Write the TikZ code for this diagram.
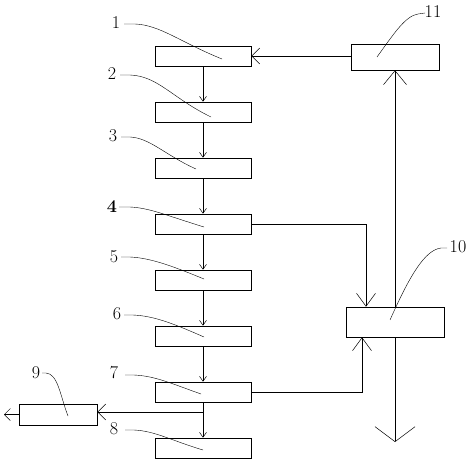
\documentclass[tikz,border=0pt]{standalone}
\usetikzlibrary{arrows.meta}
\begin{document}
\begin{tikzpicture}[x=1pt,y=-1pt,line width=0.6pt,
  box/.style={draw,rectangle,minimum width=96pt,minimum height=20pt,inner sep=0pt},
  lbl/.style={font=\fontsize{18}{18}\selectfont,inner sep=0pt},
  lead/.style={line width=0.4pt},
  sa/.style={-{Straight Barb[length=5pt,width=7pt,line width=0.5pt]}},
  ma/.style={-{Straight Barb[length=8pt,width=16pt,line width=0.5pt]}},
  la/.style={-{Straight Barb[length=13pt,width=19pt,line width=0.5pt]}},
  xa/.style={-{Straight Barb[length=14pt,width=23pt,line width=0.5pt]}},
  xl/.style={-{Straight Barb[length=15pt,width=40pt,line width=0.5pt]}}]
\useasboundingbox (0,0) rectangle (470,462);
% column boxes
\node[box] (b1) at (203,56) {};
\node[box] (b2) at (203,112) {};
\node[box] (b3) at (203,168) {};
\node[box] (b4) at (203,224) {};
\node[box] (b5) at (203,280) {};
\node[box] (b6) at (203,336) {};
\node[box] (b7) at (203,392) {};
\node[box] (b8) at (203,448) {};
\node[box,minimum width=78pt,minimum height=21pt] (b9) at (58,414.5) {};
\node[box,minimum width=98pt,minimum height=30pt] (b10) at (395,322) {};
\node[box,minimum width=88pt,minimum height=26pt] (b11) at (395,57) {};
% coordinates
\coordinate (c9) at (4,414.5);
\coordinate (branch) at (203,412);
\coordinate (c4) at (366,224);
\coordinate (c7) at (362,392);
\coordinate (cdown) at (395,442);
% connectors
\draw[ma] (b1.east -| b11.west) -- (b1.east);
\draw[sa] (b1.south) -- (b2.north);
\draw[sa] (b2.south) -- (b3.north);
\draw[sa] (b3.south) -- (b4.north);
\draw[sa] (b4.south) -- (b5.north);
\draw[sa] (b5.south) -- (b6.north);
\draw[sa] (b6.south) -- (b7.north);
\draw[sa] (b7.south) -- (b8.north);
\draw[ma] (branch) -- (branch -| b9.east);
\draw[-{Straight Barb[length=6pt,width=12pt,line width=0.5pt]}] (b9.west) -- (c9);
\draw[la] (b4.east) -- (c4) -- (c4 |- b10.north);
\draw[la] (b7.east) -- (c7) -- (c7 |- b10.south);
\draw[xa] (b10.north) -- (b11.south);
\draw[xl] (b10.south) -- (cdown);
% labels
\node[lbl] (l1) at (116,23) {1};
\node[lbl] (l2) at (112,74) {2};
\node[lbl] (l3) at (113,136) {3};
\node[lbl,font=\fontsize{18}{18}\selectfont\bfseries] (l4) at (112,207) {4};
\node[lbl] (l5) at (114,257) {5};
\node[lbl] (l6) at (117,314) {6};
\node[lbl] (l7) at (114,373) {7};
\node[lbl] (l8) at (114,429) {8};
\node[lbl] (l9) at (36,373) {9};
\node[lbl] (l10) at (458,247) {10};
\node[lbl] (l11) at (433,12) {11};
% leaders
\draw[lead] (124,24) -- (135,24) .. controls (160,25) and (180,42) .. (222,59);
\draw[lead] (120,75) -- (130,75) .. controls (158,76) and (172,98) .. (211,117);
\draw[lead] (121,137) -- (130,137) .. controls (150,138) and (165,155) .. (196,169);
\draw[lead] (119,207) -- (130,207) .. controls (150,208) and (165,215) .. (204,227);
\draw[lead] (121,257) -- (130,257) .. controls (150,258) and (170,265) .. (204,279);
\draw[lead] (124,315) -- (133,315) .. controls (153,316) and (170,322) .. (204,337);
\draw[lead] (125,375) -- (134,375) .. controls (155,376) and (170,383) .. (201,394);
\draw[lead] (125,430) -- (134,430) .. controls (155,431) and (170,440) .. (203,450);
\draw[lead] (42,373) -- (46,373) .. controls (58,374) and (60,395) .. (68,416);
\draw[lead] (447,248) -- (441,248) .. controls (425,250) and (410,275) .. (390,320);
\draw[lead] (425,13) -- (418,14) .. controls (405,16) and (393,35) .. (377,57);
\end{tikzpicture}
\end{document}
